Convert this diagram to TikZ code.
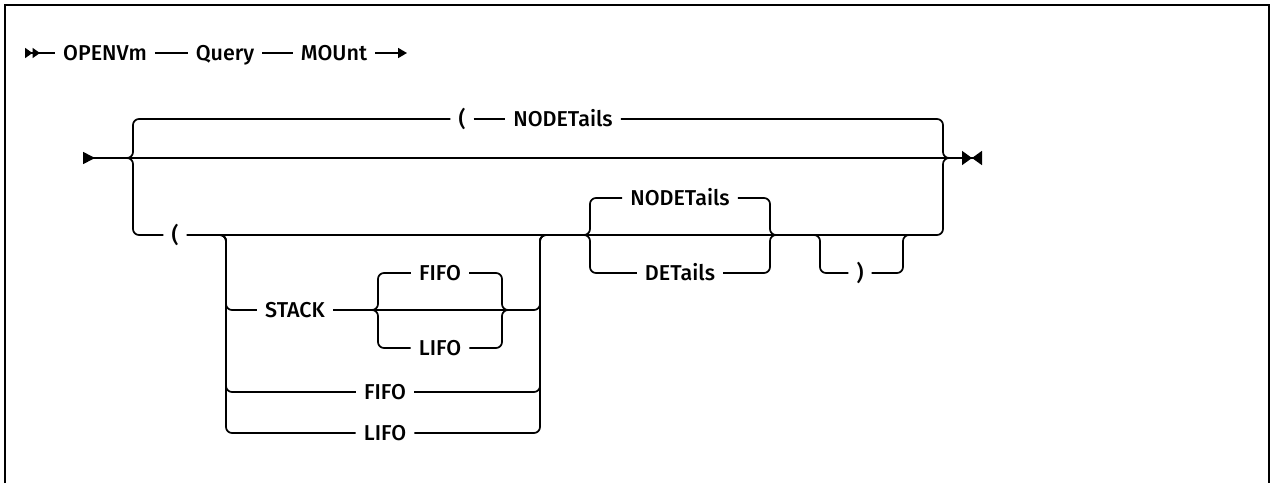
\documentclass[tikz,border=0pt]{standalone}
\usepackage{fontspec}
\setmainfont{Fira Sans}[UprightFont=* Medium]
\usepackage{tikz}
\usetikzlibrary{calc}
\usetikzlibrary{arrows.meta}

\begin{document}
\begin{tikzpicture}[x=1pt, y=-1pt,
  rail/.style={line width=1.7pt, rounded corners=6pt},
  kw/.style={inner xsep=8pt, inner ysep=0pt, text height=14.5pt, text depth=0pt,
    font=\fontsize{21.5}{25}\selectfont}]
\useasboundingbox (0,0) rectangle (1273,483);
\draw[line width=2pt] (5,483) -- (5,5) -- (1269,5) -- (1269,483);
%
% command line
\coordinate (t0) at (25,53);
\coordinate (t1) at (407,53);
\node[kw] (openvm) at (105,53) {OPENVm};
\node[kw] (query) at (225,53) {Query};
\node[kw] (mount) at (334,53) {MOUnt};
\draw[rail, {Triangle[reversed,length=7.5pt,width=10pt]Triangle[reversed,length=7.5pt,width=10pt]}-] (t0) -- (openvm.west);
\draw[rail] (openvm.east) -- (query.west);
\draw[rail] (query.east) -- (mount.west);
\draw[rail, -{Triangle[length=9pt,width=10pt]}] (mount.east) -- (t1);
%
% main line and its two branch points
\coordinate (m0) at (83,158);
\coordinate (m1) at (982,158);
\coordinate (bl) at (127,158);
\coordinate (br) at (949,158);
\draw[rail, {Triangle[reversed,length=12pt,width=12pt]}-{Triangle[length=10pt,width=14pt]Triangle[reversed,length=10pt,width=14pt]}] (m0) -- (m1);
%
% upper branch
\node[kw] (lpar1) at (462,119) {(};
\node[kw] (nodet1) at (563,119) {NODETails};
\draw[rail] (bl) -- ++(6,0) |- (lpar1.west);
\draw[rail] (lpar1.east) -- (nodet1.west);
\draw[rail] (nodet1.east) -| ($(br)+(-6,0)$) -- (br);
%
% lower branch
\node[kw] (lpar2) at (175,235) {(};
\draw[rail] (bl) -- ++(6,0) |- (lpar2.west);
\draw[rail] (lpar2.east) -| ($(br)+(-6,0)$) -- (br);
%
% STACK / FIFO / LIFO
\coordinate (c1) at (220,235);
\coordinate (c2) at (546,235);
\node[kw] (stack) at (295,310) {STACK};
\node[kw] (fifo2) at (385,392) {FIFO};
\node[kw] (lifo2) at (385,433) {LIFO};
\draw[rail] (c1) -- ++(6,0) |- (stack.west);
\draw[rail] (c1) -- ++(6,0) |- (fifo2.west);
\draw[rail] (c1) -- ++(6,0) |- (lifo2.west);
\draw[rail] (stack.east) -| ($(c2)+(-6,0)$) -- (c2);
\draw[rail] (fifo2.east) -| ($(c2)+(-6,0)$) -- (c2);
\draw[rail] (lifo2.east) -| ($(c2)+(-6,0)$) -- (c2);
%
\coordinate (s1) at (372,310);
\coordinate (s2) at (508,310);
\node[kw] (fifo1) at (440,273) {FIFO};
\node[kw] (lifo1) at (440,348) {LIFO};
\draw[rail] (s1) -- ++(6,0) |- (fifo1.west);
\draw[rail] (s1) -- ++(6,0) |- (lifo1.west);
\draw[rail] (fifo1.east) -| ($(s2)+(-6,0)$) -- (s2);
\draw[rail] (lifo1.east) -| ($(s2)+(-6,0)$) -- (s2);
%
% NODETails / DETails
\coordinate (d1) at (584,235);
\coordinate (d2) at (776,235);
\node[kw] (nodet2) at (680,198) {NODETails};
\node[kw] (det) at (680,273) {DETails};
\draw[rail] (d1) -- ++(6,0) |- (nodet2.west);
\draw[rail] (d1) -- ++(6,0) |- (det.west);
\draw[rail] (nodet2.east) -| ($(d2)+(-6,0)$) -- (d2);
\draw[rail] (det.east) -| ($(d2)+(-6,0)$) -- (d2);
%
% closing parenthesis
\coordinate (p1) at (814,235);
\coordinate (p2) at (909,235);
\node[kw] (rpar) at (860,273) {)};
\draw[rail] (p1) -- ++(6,0) |- (rpar.west);
\draw[rail] (rpar.east) -| ($(p2)+(-6,0)$) -- (p2);
\end{tikzpicture}
\end{document}
